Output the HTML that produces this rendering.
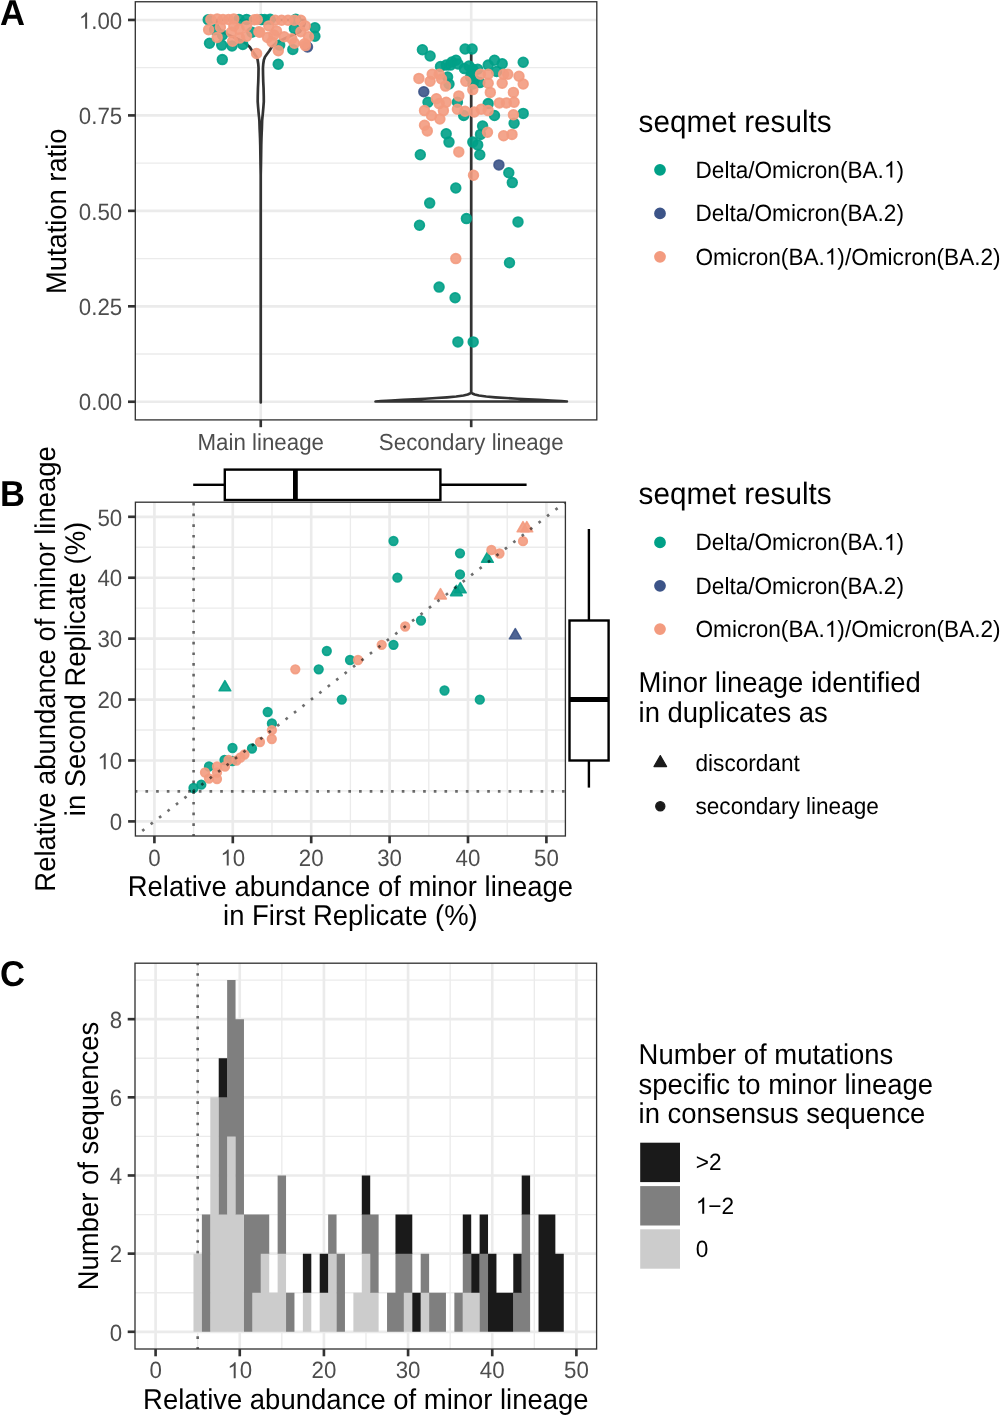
<!DOCTYPE html><html><head><meta charset="utf-8"><style>html,body{margin:0;padding:0;background:#fff;}svg{display:block;will-change:transform;}text{font-family:"Liberation Sans", sans-serif;text-rendering:geometricPrecision;}</style></head><body>
<svg width="1000" height="1416" viewBox="0 0 1000 1416">
<rect x="0" y="0" width="1000" height="1416" fill="#fff"/>
<g>
<clipPath id="clipA"><rect x="135.3" y="1.75" width="461.49999999999994" height="418.15"/></clipPath>
<line x1="135.3" y1="354.02" x2="596.8" y2="354.02" stroke="#EBEBEB" stroke-width="1.33" />
<line x1="135.3" y1="258.57" x2="596.8" y2="258.57" stroke="#EBEBEB" stroke-width="1.33" />
<line x1="135.3" y1="163.12" x2="596.8" y2="163.12" stroke="#EBEBEB" stroke-width="1.33" />
<line x1="135.3" y1="67.68" x2="596.8" y2="67.68" stroke="#EBEBEB" stroke-width="1.33" />
<line x1="260.75" y1="1.75" x2="260.75" y2="419.9" stroke="#EBEBEB" stroke-width="2.65" />
<line x1="471.2" y1="1.75" x2="471.2" y2="419.9" stroke="#EBEBEB" stroke-width="2.65" />
<line x1="135.3" y1="401.75" x2="596.8" y2="401.75" stroke="#EBEBEB" stroke-width="2.65" />
<line x1="135.3" y1="306.3" x2="596.8" y2="306.3" stroke="#EBEBEB" stroke-width="2.65" />
<line x1="135.3" y1="210.85" x2="596.8" y2="210.85" stroke="#EBEBEB" stroke-width="2.65" />
<line x1="135.3" y1="115.4" x2="596.8" y2="115.4" stroke="#EBEBEB" stroke-width="2.65" />
<line x1="135.3" y1="19.95" x2="596.8" y2="19.95" stroke="#EBEBEB" stroke-width="2.65" />
</g>
<path d="M260.75,402.5 L260.75,175 L260.55,165 L260.4,155 L260.25,145 L260.05,138 L259.85,133 L259.65,129 L259.4,121 L259.05,117 L258.65,113.3 L258.1,107 L257.7,101.7 L257.75,96 L257.95,88 L258.25,82 L258.45,75 L258.55,68 L258.25,64 L257.65,60 L256.55,57 L254.45,54 L252.25,51 L249.75,47 L246.25,44 L241.75,41 L235.75,38 L228.75,35 L221.75,32 L219.75,29 L217.75,26 L216.75,23 L216.75,20 L304.75,20 L304.75,23 L303.75,26 L301.75,29 L299.75,32 L292.75,35 L285.75,38 L279.75,41 L275.25,44 L271.75,47 L269.25,51 L267.05,54 L264.95,57 L263.85,60 L263.25,64 L262.95,68 L263.05,75 L263.25,82 L263.55,88 L263.75,96 L263.8,101.7 L263.4,107 L262.85,113.3 L262.45,117 L262.1,121 L261.85,129 L261.65,133 L261.45,138 L261.25,145 L261.1,155 L260.95,165 L260.75,175 L260.75,402.5 Z" fill="#fff" stroke="#333333" stroke-width="2.7" stroke-linejoin="round"/>
<path d="M375.5,401.5 L381,401 L391.2,400.5 L403,399.9 L414.2,399.3 L425,398.75 L436.2,398 L447,397.3 L456.2,396.5 L463.5,395.5 L467.7,394.5 L470,393.5 L471.2,392.7 L471.2,53 L471.2,53 L471.2,392.7 L472.4,393.5 L474.7,394.5 L478.9,395.5 L486.2,396.5 L495.4,397.3 L506.2,398 L517.4,398.75 L528.2,399.3 L539.4,399.9 L551.2,400.5 L561.4,401 L566.9,401.5 Z" fill="#fff" stroke="#333333" stroke-width="2.7" stroke-linejoin="round"/>
<g clip-path="url(#clipA)">
<circle cx="208.2" cy="19.8" r="4.85" fill="#00A087" fill-opacity="0.9" stroke="#00A087" stroke-opacity="0.9" stroke-width="1.76"/>
<circle cx="239" cy="19.4" r="4.85" fill="#00A087" fill-opacity="0.9" stroke="#00A087" stroke-opacity="0.9" stroke-width="1.76"/>
<circle cx="246.6" cy="19.4" r="4.85" fill="#00A087" fill-opacity="0.9" stroke="#00A087" stroke-opacity="0.9" stroke-width="1.76"/>
<circle cx="261.4" cy="19.6" r="4.85" fill="#00A087" fill-opacity="0.9" stroke="#00A087" stroke-opacity="0.9" stroke-width="1.76"/>
<circle cx="264.7" cy="19.6" r="4.85" fill="#00A087" fill-opacity="0.9" stroke="#00A087" stroke-opacity="0.9" stroke-width="1.76"/>
<circle cx="270.1" cy="19.3" r="4.85" fill="#00A087" fill-opacity="0.9" stroke="#00A087" stroke-opacity="0.9" stroke-width="1.76"/>
<circle cx="295.7" cy="19.3" r="4.85" fill="#00A087" fill-opacity="0.9" stroke="#00A087" stroke-opacity="0.9" stroke-width="1.76"/>
<circle cx="214.6" cy="29.8" r="4.85" fill="#00A087" fill-opacity="0.9" stroke="#00A087" stroke-opacity="0.9" stroke-width="1.76"/>
<circle cx="251.8" cy="32.3" r="4.85" fill="#00A087" fill-opacity="0.9" stroke="#00A087" stroke-opacity="0.9" stroke-width="1.76"/>
<circle cx="294.4" cy="28.5" r="4.85" fill="#00A087" fill-opacity="0.9" stroke="#00A087" stroke-opacity="0.9" stroke-width="1.76"/>
<circle cx="314.9" cy="27.8" r="4.85" fill="#00A087" fill-opacity="0.9" stroke="#00A087" stroke-opacity="0.9" stroke-width="1.76"/>
<circle cx="314.9" cy="36.2" r="4.85" fill="#00A087" fill-opacity="0.9" stroke="#00A087" stroke-opacity="0.9" stroke-width="1.76"/>
<circle cx="222.5" cy="35" r="4.85" fill="#00A087" fill-opacity="0.9" stroke="#00A087" stroke-opacity="0.9" stroke-width="1.76"/>
<circle cx="209.5" cy="43.2" r="4.85" fill="#00A087" fill-opacity="0.9" stroke="#00A087" stroke-opacity="0.9" stroke-width="1.76"/>
<circle cx="221.7" cy="45.1" r="4.85" fill="#00A087" fill-opacity="0.9" stroke="#00A087" stroke-opacity="0.9" stroke-width="1.76"/>
<circle cx="232" cy="46" r="4.85" fill="#00A087" fill-opacity="0.9" stroke="#00A087" stroke-opacity="0.9" stroke-width="1.76"/>
<circle cx="242.8" cy="44.5" r="4.85" fill="#00A087" fill-opacity="0.9" stroke="#00A087" stroke-opacity="0.9" stroke-width="1.76"/>
<circle cx="279.7" cy="45.1" r="4.85" fill="#00A087" fill-opacity="0.9" stroke="#00A087" stroke-opacity="0.9" stroke-width="1.76"/>
<circle cx="292.8" cy="49.5" r="4.85" fill="#00A087" fill-opacity="0.9" stroke="#00A087" stroke-opacity="0.9" stroke-width="1.76"/>
<circle cx="222.3" cy="59.6" r="4.85" fill="#00A087" fill-opacity="0.9" stroke="#00A087" stroke-opacity="0.9" stroke-width="1.76"/>
<circle cx="278.2" cy="64.2" r="4.85" fill="#00A087" fill-opacity="0.9" stroke="#00A087" stroke-opacity="0.9" stroke-width="1.76"/>
<circle cx="422.4" cy="49.7" r="4.85" fill="#00A087" fill-opacity="0.9" stroke="#00A087" stroke-opacity="0.9" stroke-width="1.76"/>
<circle cx="430.1" cy="56" r="4.85" fill="#00A087" fill-opacity="0.9" stroke="#00A087" stroke-opacity="0.9" stroke-width="1.76"/>
<circle cx="465.1" cy="49" r="4.85" fill="#00A087" fill-opacity="0.9" stroke="#00A087" stroke-opacity="0.9" stroke-width="1.76"/>
<circle cx="472.1" cy="49" r="4.85" fill="#00A087" fill-opacity="0.9" stroke="#00A087" stroke-opacity="0.9" stroke-width="1.76"/>
<circle cx="523.2" cy="62.3" r="4.85" fill="#00A087" fill-opacity="0.9" stroke="#00A087" stroke-opacity="0.9" stroke-width="1.76"/>
<circle cx="456" cy="60.2" r="4.85" fill="#00A087" fill-opacity="0.9" stroke="#00A087" stroke-opacity="0.9" stroke-width="1.76"/>
<circle cx="446.2" cy="65.1" r="4.85" fill="#00A087" fill-opacity="0.9" stroke="#00A087" stroke-opacity="0.9" stroke-width="1.76"/>
<circle cx="450.4" cy="65.1" r="4.85" fill="#00A087" fill-opacity="0.9" stroke="#00A087" stroke-opacity="0.9" stroke-width="1.76"/>
<circle cx="464.4" cy="68.6" r="4.85" fill="#00A087" fill-opacity="0.9" stroke="#00A087" stroke-opacity="0.9" stroke-width="1.76"/>
<circle cx="472.8" cy="69.3" r="4.85" fill="#00A087" fill-opacity="0.9" stroke="#00A087" stroke-opacity="0.9" stroke-width="1.76"/>
<circle cx="477.7" cy="69.3" r="4.85" fill="#00A087" fill-opacity="0.9" stroke="#00A087" stroke-opacity="0.9" stroke-width="1.76"/>
<circle cx="488.2" cy="65.1" r="4.85" fill="#00A087" fill-opacity="0.9" stroke="#00A087" stroke-opacity="0.9" stroke-width="1.76"/>
<circle cx="494.5" cy="60.2" r="4.85" fill="#00A087" fill-opacity="0.9" stroke="#00A087" stroke-opacity="0.9" stroke-width="1.76"/>
<circle cx="502.2" cy="63.7" r="4.85" fill="#00A087" fill-opacity="0.9" stroke="#00A087" stroke-opacity="0.9" stroke-width="1.76"/>
<circle cx="496.6" cy="71.4" r="4.85" fill="#00A087" fill-opacity="0.9" stroke="#00A087" stroke-opacity="0.9" stroke-width="1.76"/>
<circle cx="447.6" cy="77" r="4.85" fill="#00A087" fill-opacity="0.9" stroke="#00A087" stroke-opacity="0.9" stroke-width="1.76"/>
<circle cx="449" cy="84" r="4.85" fill="#00A087" fill-opacity="0.9" stroke="#00A087" stroke-opacity="0.9" stroke-width="1.76"/>
<circle cx="474.2" cy="79.8" r="4.85" fill="#00A087" fill-opacity="0.9" stroke="#00A087" stroke-opacity="0.9" stroke-width="1.76"/>
<circle cx="479.8" cy="82.6" r="4.85" fill="#00A087" fill-opacity="0.9" stroke="#00A087" stroke-opacity="0.9" stroke-width="1.76"/>
<circle cx="428" cy="102.2" r="4.85" fill="#00A087" fill-opacity="0.9" stroke="#00A087" stroke-opacity="0.9" stroke-width="1.76"/>
<circle cx="457.4" cy="102.2" r="4.85" fill="#00A087" fill-opacity="0.9" stroke="#00A087" stroke-opacity="0.9" stroke-width="1.76"/>
<circle cx="463.7" cy="115.5" r="4.85" fill="#00A087" fill-opacity="0.9" stroke="#00A087" stroke-opacity="0.9" stroke-width="1.76"/>
<circle cx="488.2" cy="103.6" r="4.85" fill="#00A087" fill-opacity="0.9" stroke="#00A087" stroke-opacity="0.9" stroke-width="1.76"/>
<circle cx="494.5" cy="115.5" r="4.85" fill="#00A087" fill-opacity="0.9" stroke="#00A087" stroke-opacity="0.9" stroke-width="1.76"/>
<circle cx="523.2" cy="113.4" r="4.85" fill="#00A087" fill-opacity="0.9" stroke="#00A087" stroke-opacity="0.9" stroke-width="1.76"/>
<circle cx="514.1" cy="123.2" r="4.85" fill="#00A087" fill-opacity="0.9" stroke="#00A087" stroke-opacity="0.9" stroke-width="1.76"/>
<circle cx="482.6" cy="126" r="4.85" fill="#00A087" fill-opacity="0.9" stroke="#00A087" stroke-opacity="0.9" stroke-width="1.76"/>
<circle cx="480.5" cy="134.4" r="4.85" fill="#00A087" fill-opacity="0.9" stroke="#00A087" stroke-opacity="0.9" stroke-width="1.76"/>
<circle cx="446.2" cy="133.7" r="4.85" fill="#00A087" fill-opacity="0.9" stroke="#00A087" stroke-opacity="0.9" stroke-width="1.76"/>
<circle cx="449" cy="142.1" r="4.85" fill="#00A087" fill-opacity="0.9" stroke="#00A087" stroke-opacity="0.9" stroke-width="1.76"/>
<circle cx="472.8" cy="142.1" r="4.85" fill="#00A087" fill-opacity="0.9" stroke="#00A087" stroke-opacity="0.9" stroke-width="1.76"/>
<circle cx="477.7" cy="144.9" r="4.85" fill="#00A087" fill-opacity="0.9" stroke="#00A087" stroke-opacity="0.9" stroke-width="1.76"/>
<circle cx="420.3" cy="154.7" r="4.85" fill="#00A087" fill-opacity="0.9" stroke="#00A087" stroke-opacity="0.9" stroke-width="1.76"/>
<circle cx="479.8" cy="154.7" r="4.85" fill="#00A087" fill-opacity="0.9" stroke="#00A087" stroke-opacity="0.9" stroke-width="1.76"/>
<circle cx="508.8" cy="172.7" r="4.85" fill="#00A087" fill-opacity="0.9" stroke="#00A087" stroke-opacity="0.9" stroke-width="1.76"/>
<circle cx="512.3" cy="182.6" r="4.85" fill="#00A087" fill-opacity="0.9" stroke="#00A087" stroke-opacity="0.9" stroke-width="1.76"/>
<circle cx="455.8" cy="188" r="4.85" fill="#00A087" fill-opacity="0.9" stroke="#00A087" stroke-opacity="0.9" stroke-width="1.76"/>
<circle cx="429.7" cy="203.1" r="4.85" fill="#00A087" fill-opacity="0.9" stroke="#00A087" stroke-opacity="0.9" stroke-width="1.76"/>
<circle cx="466.4" cy="218.6" r="4.85" fill="#00A087" fill-opacity="0.9" stroke="#00A087" stroke-opacity="0.9" stroke-width="1.76"/>
<circle cx="419.5" cy="225.3" r="4.85" fill="#00A087" fill-opacity="0.9" stroke="#00A087" stroke-opacity="0.9" stroke-width="1.76"/>
<circle cx="518" cy="221.9" r="4.85" fill="#00A087" fill-opacity="0.9" stroke="#00A087" stroke-opacity="0.9" stroke-width="1.76"/>
<circle cx="509.5" cy="262.8" r="4.85" fill="#00A087" fill-opacity="0.9" stroke="#00A087" stroke-opacity="0.9" stroke-width="1.76"/>
<circle cx="439.1" cy="287.1" r="4.85" fill="#00A087" fill-opacity="0.9" stroke="#00A087" stroke-opacity="0.9" stroke-width="1.76"/>
<circle cx="455.1" cy="297.7" r="4.85" fill="#00A087" fill-opacity="0.9" stroke="#00A087" stroke-opacity="0.9" stroke-width="1.76"/>
<circle cx="457.9" cy="341.9" r="4.85" fill="#00A087" fill-opacity="0.9" stroke="#00A087" stroke-opacity="0.9" stroke-width="1.76"/>
<circle cx="473.2" cy="341.9" r="4.85" fill="#00A087" fill-opacity="0.9" stroke="#00A087" stroke-opacity="0.9" stroke-width="1.76"/>
<circle cx="440.5" cy="66.5" r="4.85" fill="#00A087" fill-opacity="0.9" stroke="#00A087" stroke-opacity="0.9" stroke-width="1.76"/>
<circle cx="452" cy="62" r="4.85" fill="#00A087" fill-opacity="0.9" stroke="#00A087" stroke-opacity="0.9" stroke-width="1.76"/>
<circle cx="458" cy="64" r="4.85" fill="#00A087" fill-opacity="0.9" stroke="#00A087" stroke-opacity="0.9" stroke-width="1.76"/>
<circle cx="471.5" cy="74" r="4.85" fill="#00A087" fill-opacity="0.9" stroke="#00A087" stroke-opacity="0.9" stroke-width="1.76"/>
<circle cx="469" cy="66" r="4.85" fill="#00A087" fill-opacity="0.9" stroke="#00A087" stroke-opacity="0.9" stroke-width="1.76"/>
<circle cx="473" cy="84" r="4.85" fill="#00A087" fill-opacity="0.9" stroke="#00A087" stroke-opacity="0.9" stroke-width="1.76"/>
<circle cx="470.5" cy="77" r="4.85" fill="#00A087" fill-opacity="0.9" stroke="#00A087" stroke-opacity="0.9" stroke-width="1.76"/>
<circle cx="307.5" cy="47" r="4.85" fill="#3C5488" fill-opacity="0.9" stroke="#3C5488" stroke-opacity="0.9" stroke-width="1.76"/>
<circle cx="423.8" cy="91.7" r="4.85" fill="#3C5488" fill-opacity="0.9" stroke="#3C5488" stroke-opacity="0.9" stroke-width="1.76"/>
<circle cx="498.9" cy="164.9" r="4.85" fill="#3C5488" fill-opacity="0.9" stroke="#3C5488" stroke-opacity="0.9" stroke-width="1.76"/>
<circle cx="210.8" cy="19.5" r="4.85" fill="#F39B7F" fill-opacity="0.9" stroke="#F39B7F" stroke-opacity="0.9" stroke-width="1.76"/>
<circle cx="217.2" cy="18.9" r="4.85" fill="#F39B7F" fill-opacity="0.9" stroke="#F39B7F" stroke-opacity="0.9" stroke-width="1.76"/>
<circle cx="223" cy="19.5" r="4.85" fill="#F39B7F" fill-opacity="0.9" stroke="#F39B7F" stroke-opacity="0.9" stroke-width="1.76"/>
<circle cx="228.5" cy="19.5" r="4.85" fill="#F39B7F" fill-opacity="0.9" stroke="#F39B7F" stroke-opacity="0.9" stroke-width="1.76"/>
<circle cx="233.8" cy="18.9" r="4.85" fill="#F39B7F" fill-opacity="0.9" stroke="#F39B7F" stroke-opacity="0.9" stroke-width="1.76"/>
<circle cx="254.3" cy="19.8" r="4.85" fill="#F39B7F" fill-opacity="0.9" stroke="#F39B7F" stroke-opacity="0.9" stroke-width="1.76"/>
<circle cx="257.3" cy="19.5" r="4.85" fill="#F39B7F" fill-opacity="0.9" stroke="#F39B7F" stroke-opacity="0.9" stroke-width="1.76"/>
<circle cx="275.2" cy="20.2" r="4.85" fill="#F39B7F" fill-opacity="0.9" stroke="#F39B7F" stroke-opacity="0.9" stroke-width="1.76"/>
<circle cx="281.6" cy="20.2" r="4.85" fill="#F39B7F" fill-opacity="0.9" stroke="#F39B7F" stroke-opacity="0.9" stroke-width="1.76"/>
<circle cx="288" cy="20.2" r="4.85" fill="#F39B7F" fill-opacity="0.9" stroke="#F39B7F" stroke-opacity="0.9" stroke-width="1.76"/>
<circle cx="294.4" cy="20.2" r="4.85" fill="#F39B7F" fill-opacity="0.9" stroke="#F39B7F" stroke-opacity="0.9" stroke-width="1.76"/>
<circle cx="300.8" cy="20.2" r="4.85" fill="#F39B7F" fill-opacity="0.9" stroke="#F39B7F" stroke-opacity="0.9" stroke-width="1.76"/>
<circle cx="208.6" cy="29.8" r="4.85" fill="#F39B7F" fill-opacity="0.9" stroke="#F39B7F" stroke-opacity="0.9" stroke-width="1.76"/>
<circle cx="220.4" cy="27.2" r="4.85" fill="#F39B7F" fill-opacity="0.9" stroke="#F39B7F" stroke-opacity="0.9" stroke-width="1.76"/>
<circle cx="233.8" cy="25.9" r="4.85" fill="#F39B7F" fill-opacity="0.9" stroke="#F39B7F" stroke-opacity="0.9" stroke-width="1.76"/>
<circle cx="246.6" cy="25.9" r="4.85" fill="#F39B7F" fill-opacity="0.9" stroke="#F39B7F" stroke-opacity="0.9" stroke-width="1.76"/>
<circle cx="239" cy="29.1" r="4.85" fill="#F39B7F" fill-opacity="0.9" stroke="#F39B7F" stroke-opacity="0.9" stroke-width="1.76"/>
<circle cx="231.3" cy="32.3" r="4.85" fill="#F39B7F" fill-opacity="0.9" stroke="#F39B7F" stroke-opacity="0.9" stroke-width="1.76"/>
<circle cx="258.8" cy="31.7" r="4.85" fill="#F39B7F" fill-opacity="0.9" stroke="#F39B7F" stroke-opacity="0.9" stroke-width="1.76"/>
<circle cx="268.8" cy="25.9" r="4.85" fill="#F39B7F" fill-opacity="0.9" stroke="#F39B7F" stroke-opacity="0.9" stroke-width="1.76"/>
<circle cx="305.3" cy="25.9" r="4.85" fill="#F39B7F" fill-opacity="0.9" stroke="#F39B7F" stroke-opacity="0.9" stroke-width="1.76"/>
<circle cx="259.8" cy="32.3" r="4.85" fill="#F39B7F" fill-opacity="0.9" stroke="#F39B7F" stroke-opacity="0.9" stroke-width="1.76"/>
<circle cx="217.2" cy="37.4" r="4.85" fill="#F39B7F" fill-opacity="0.9" stroke="#F39B7F" stroke-opacity="0.9" stroke-width="1.76"/>
<circle cx="246.6" cy="36.2" r="4.85" fill="#F39B7F" fill-opacity="0.9" stroke="#F39B7F" stroke-opacity="0.9" stroke-width="1.76"/>
<circle cx="239.6" cy="38.1" r="4.85" fill="#F39B7F" fill-opacity="0.9" stroke="#F39B7F" stroke-opacity="0.9" stroke-width="1.76"/>
<circle cx="267.5" cy="37.4" r="4.85" fill="#F39B7F" fill-opacity="0.9" stroke="#F39B7F" stroke-opacity="0.9" stroke-width="1.76"/>
<circle cx="273.9" cy="34.9" r="4.85" fill="#F39B7F" fill-opacity="0.9" stroke="#F39B7F" stroke-opacity="0.9" stroke-width="1.76"/>
<circle cx="276.5" cy="31" r="4.85" fill="#F39B7F" fill-opacity="0.9" stroke="#F39B7F" stroke-opacity="0.9" stroke-width="1.76"/>
<circle cx="284.2" cy="36.8" r="4.85" fill="#F39B7F" fill-opacity="0.9" stroke="#F39B7F" stroke-opacity="0.9" stroke-width="1.76"/>
<circle cx="291.8" cy="38.7" r="4.85" fill="#F39B7F" fill-opacity="0.9" stroke="#F39B7F" stroke-opacity="0.9" stroke-width="1.76"/>
<circle cx="300.8" cy="31.7" r="4.85" fill="#F39B7F" fill-opacity="0.9" stroke="#F39B7F" stroke-opacity="0.9" stroke-width="1.76"/>
<circle cx="308.5" cy="36.8" r="4.85" fill="#F39B7F" fill-opacity="0.9" stroke="#F39B7F" stroke-opacity="0.9" stroke-width="1.76"/>
<circle cx="232.6" cy="41.3" r="4.85" fill="#F39B7F" fill-opacity="0.9" stroke="#F39B7F" stroke-opacity="0.9" stroke-width="1.76"/>
<circle cx="272" cy="41.9" r="4.85" fill="#F39B7F" fill-opacity="0.9" stroke="#F39B7F" stroke-opacity="0.9" stroke-width="1.76"/>
<circle cx="294.4" cy="43.2" r="4.85" fill="#F39B7F" fill-opacity="0.9" stroke="#F39B7F" stroke-opacity="0.9" stroke-width="1.76"/>
<circle cx="304.6" cy="43.8" r="4.85" fill="#F39B7F" fill-opacity="0.9" stroke="#F39B7F" stroke-opacity="0.9" stroke-width="1.76"/>
<circle cx="305.5" cy="45.6" r="4.85" fill="#F39B7F" fill-opacity="0.9" stroke="#F39B7F" stroke-opacity="0.9" stroke-width="1.76"/>
<circle cx="278.3" cy="50.8" r="4.85" fill="#F39B7F" fill-opacity="0.9" stroke="#F39B7F" stroke-opacity="0.9" stroke-width="1.76"/>
<circle cx="256.6" cy="53.5" r="4.85" fill="#F39B7F" fill-opacity="0.9" stroke="#F39B7F" stroke-opacity="0.9" stroke-width="1.76"/>
<circle cx="418.9" cy="78.4" r="4.85" fill="#F39B7F" fill-opacity="0.9" stroke="#F39B7F" stroke-opacity="0.9" stroke-width="1.76"/>
<circle cx="430.1" cy="81.2" r="4.85" fill="#F39B7F" fill-opacity="0.9" stroke="#F39B7F" stroke-opacity="0.9" stroke-width="1.76"/>
<circle cx="432.2" cy="74.2" r="4.85" fill="#F39B7F" fill-opacity="0.9" stroke="#F39B7F" stroke-opacity="0.9" stroke-width="1.76"/>
<circle cx="439.2" cy="74.2" r="4.85" fill="#F39B7F" fill-opacity="0.9" stroke="#F39B7F" stroke-opacity="0.9" stroke-width="1.76"/>
<circle cx="441.5" cy="79" r="4.85" fill="#F39B7F" fill-opacity="0.9" stroke="#F39B7F" stroke-opacity="0.9" stroke-width="1.76"/>
<circle cx="445.5" cy="86.1" r="4.85" fill="#F39B7F" fill-opacity="0.9" stroke="#F39B7F" stroke-opacity="0.9" stroke-width="1.76"/>
<circle cx="465.8" cy="81.2" r="4.85" fill="#F39B7F" fill-opacity="0.9" stroke="#F39B7F" stroke-opacity="0.9" stroke-width="1.76"/>
<circle cx="472.8" cy="89.6" r="4.85" fill="#F39B7F" fill-opacity="0.9" stroke="#F39B7F" stroke-opacity="0.9" stroke-width="1.76"/>
<circle cx="480.5" cy="74.2" r="4.85" fill="#F39B7F" fill-opacity="0.9" stroke="#F39B7F" stroke-opacity="0.9" stroke-width="1.76"/>
<circle cx="488.2" cy="74.2" r="4.85" fill="#F39B7F" fill-opacity="0.9" stroke="#F39B7F" stroke-opacity="0.9" stroke-width="1.76"/>
<circle cx="488.2" cy="83.3" r="4.85" fill="#F39B7F" fill-opacity="0.9" stroke="#F39B7F" stroke-opacity="0.9" stroke-width="1.76"/>
<circle cx="490.3" cy="92.4" r="4.85" fill="#F39B7F" fill-opacity="0.9" stroke="#F39B7F" stroke-opacity="0.9" stroke-width="1.76"/>
<circle cx="503.6" cy="74.2" r="4.85" fill="#F39B7F" fill-opacity="0.9" stroke="#F39B7F" stroke-opacity="0.9" stroke-width="1.76"/>
<circle cx="507.8" cy="74.2" r="4.85" fill="#F39B7F" fill-opacity="0.9" stroke="#F39B7F" stroke-opacity="0.9" stroke-width="1.76"/>
<circle cx="502.2" cy="83.3" r="4.85" fill="#F39B7F" fill-opacity="0.9" stroke="#F39B7F" stroke-opacity="0.9" stroke-width="1.76"/>
<circle cx="519" cy="76.3" r="4.85" fill="#F39B7F" fill-opacity="0.9" stroke="#F39B7F" stroke-opacity="0.9" stroke-width="1.76"/>
<circle cx="523.2" cy="84" r="4.85" fill="#F39B7F" fill-opacity="0.9" stroke="#F39B7F" stroke-opacity="0.9" stroke-width="1.76"/>
<circle cx="513.4" cy="92.4" r="4.85" fill="#F39B7F" fill-opacity="0.9" stroke="#F39B7F" stroke-opacity="0.9" stroke-width="1.76"/>
<circle cx="458.8" cy="95.9" r="4.85" fill="#F39B7F" fill-opacity="0.9" stroke="#F39B7F" stroke-opacity="0.9" stroke-width="1.76"/>
<circle cx="436.4" cy="98.7" r="4.85" fill="#F39B7F" fill-opacity="0.9" stroke="#F39B7F" stroke-opacity="0.9" stroke-width="1.76"/>
<circle cx="446.2" cy="102.2" r="4.85" fill="#F39B7F" fill-opacity="0.9" stroke="#F39B7F" stroke-opacity="0.9" stroke-width="1.76"/>
<circle cx="439.2" cy="103.6" r="4.85" fill="#F39B7F" fill-opacity="0.9" stroke="#F39B7F" stroke-opacity="0.9" stroke-width="1.76"/>
<circle cx="424.5" cy="110.6" r="4.85" fill="#F39B7F" fill-opacity="0.9" stroke="#F39B7F" stroke-opacity="0.9" stroke-width="1.76"/>
<circle cx="431.5" cy="115.5" r="4.85" fill="#F39B7F" fill-opacity="0.9" stroke="#F39B7F" stroke-opacity="0.9" stroke-width="1.76"/>
<circle cx="439.9" cy="119" r="4.85" fill="#F39B7F" fill-opacity="0.9" stroke="#F39B7F" stroke-opacity="0.9" stroke-width="1.76"/>
<circle cx="443.4" cy="110.6" r="4.85" fill="#F39B7F" fill-opacity="0.9" stroke="#F39B7F" stroke-opacity="0.9" stroke-width="1.76"/>
<circle cx="457.4" cy="109.2" r="4.85" fill="#F39B7F" fill-opacity="0.9" stroke="#F39B7F" stroke-opacity="0.9" stroke-width="1.76"/>
<circle cx="465.1" cy="111.3" r="4.85" fill="#F39B7F" fill-opacity="0.9" stroke="#F39B7F" stroke-opacity="0.9" stroke-width="1.76"/>
<circle cx="474.2" cy="112" r="4.85" fill="#F39B7F" fill-opacity="0.9" stroke="#F39B7F" stroke-opacity="0.9" stroke-width="1.76"/>
<circle cx="481.2" cy="109.2" r="4.85" fill="#F39B7F" fill-opacity="0.9" stroke="#F39B7F" stroke-opacity="0.9" stroke-width="1.76"/>
<circle cx="488.2" cy="110.6" r="4.85" fill="#F39B7F" fill-opacity="0.9" stroke="#F39B7F" stroke-opacity="0.9" stroke-width="1.76"/>
<circle cx="499.4" cy="102.9" r="4.85" fill="#F39B7F" fill-opacity="0.9" stroke="#F39B7F" stroke-opacity="0.9" stroke-width="1.76"/>
<circle cx="506.4" cy="102.9" r="4.85" fill="#F39B7F" fill-opacity="0.9" stroke="#F39B7F" stroke-opacity="0.9" stroke-width="1.76"/>
<circle cx="514.1" cy="102.2" r="4.85" fill="#F39B7F" fill-opacity="0.9" stroke="#F39B7F" stroke-opacity="0.9" stroke-width="1.76"/>
<circle cx="513.4" cy="114.8" r="4.85" fill="#F39B7F" fill-opacity="0.9" stroke="#F39B7F" stroke-opacity="0.9" stroke-width="1.76"/>
<circle cx="424.5" cy="125.3" r="4.85" fill="#F39B7F" fill-opacity="0.9" stroke="#F39B7F" stroke-opacity="0.9" stroke-width="1.76"/>
<circle cx="427.3" cy="130.9" r="4.85" fill="#F39B7F" fill-opacity="0.9" stroke="#F39B7F" stroke-opacity="0.9" stroke-width="1.76"/>
<circle cx="487.5" cy="132.3" r="4.85" fill="#F39B7F" fill-opacity="0.9" stroke="#F39B7F" stroke-opacity="0.9" stroke-width="1.76"/>
<circle cx="503.6" cy="135.8" r="4.85" fill="#F39B7F" fill-opacity="0.9" stroke="#F39B7F" stroke-opacity="0.9" stroke-width="1.76"/>
<circle cx="512" cy="134.4" r="4.85" fill="#F39B7F" fill-opacity="0.9" stroke="#F39B7F" stroke-opacity="0.9" stroke-width="1.76"/>
<circle cx="458.8" cy="151.9" r="4.85" fill="#F39B7F" fill-opacity="0.9" stroke="#F39B7F" stroke-opacity="0.9" stroke-width="1.76"/>
<circle cx="473.5" cy="175.3" r="4.85" fill="#F39B7F" fill-opacity="0.9" stroke="#F39B7F" stroke-opacity="0.9" stroke-width="1.76"/>
<circle cx="455.8" cy="258.6" r="4.85" fill="#F39B7F" fill-opacity="0.9" stroke="#F39B7F" stroke-opacity="0.9" stroke-width="1.76"/>
</g>
<rect x="135.3" y="1.75" width="461.5" height="418.15" fill="none" stroke="#333333" stroke-width="1.33"/>
<line x1="128" y1="401.75" x2="135.3" y2="401.75" stroke="#333333" stroke-width="2.65" />
<text transform="translate(122.2 410.45) scale(1 1.055)" font-size="22.3" fill="#4D4D4D" text-anchor="end" >0.00</text>
<line x1="128" y1="306.3" x2="135.3" y2="306.3" stroke="#333333" stroke-width="2.65" />
<text transform="translate(122.2 315) scale(1 1.055)" font-size="22.3" fill="#4D4D4D" text-anchor="end" >0.25</text>
<line x1="128" y1="210.85" x2="135.3" y2="210.85" stroke="#333333" stroke-width="2.65" />
<text transform="translate(122.2 219.55) scale(1 1.055)" font-size="22.3" fill="#4D4D4D" text-anchor="end" >0.50</text>
<line x1="128" y1="115.4" x2="135.3" y2="115.4" stroke="#333333" stroke-width="2.65" />
<text transform="translate(122.2 124.1) scale(1 1.055)" font-size="22.3" fill="#4D4D4D" text-anchor="end" >0.75</text>
<line x1="128" y1="19.95" x2="135.3" y2="19.95" stroke="#333333" stroke-width="2.65" />
<text transform="translate(122.2 28.65) scale(1 1.055)" font-size="22.3" fill="#4D4D4D" text-anchor="end" > .00</text>
<path transform="matrix(0.010889 0 0 -0.010889 78.8 28.65)" d="M763,0 L583,0 L583,1147 Q518,1085 412.5,1023 Q307,961 223,930 L223,1104 Q374,1175 487,1276 Q600,1377 647,1472 L763,1472 Z" fill="#4D4D4D"/>
<line x1="260.75" y1="419.9" x2="260.75" y2="427.2" stroke="#333333" stroke-width="2.65" />
<text transform="translate(260.75 449.7) scale(1 1.04)" font-size="22.3" fill="#4D4D4D" text-anchor="middle" >Main lineage</text>
<line x1="471.2" y1="419.9" x2="471.2" y2="427.2" stroke="#333333" stroke-width="2.65" />
<text transform="translate(471.2 449.7) scale(1 1.04)" font-size="22.3" fill="#4D4D4D" text-anchor="middle" >Secondary lineage</text>
<text transform="translate(65.9 211.3) rotate(-90) scale(1 1.04)" font-size="27.3" fill="#000" text-anchor="middle" >Mutation ratio</text>
<clipPath id="clipB"><rect x="135.4" y="502.2" width="430.0" height="333.8"/></clipPath>
<line x1="193.6" y1="502.2" x2="193.6" y2="836" stroke="#EBEBEB" stroke-width="1.33" />
<line x1="272" y1="502.2" x2="272" y2="836" stroke="#EBEBEB" stroke-width="1.33" />
<line x1="350.4" y1="502.2" x2="350.4" y2="836" stroke="#EBEBEB" stroke-width="1.33" />
<line x1="428.8" y1="502.2" x2="428.8" y2="836" stroke="#EBEBEB" stroke-width="1.33" />
<line x1="507.2" y1="502.2" x2="507.2" y2="836" stroke="#EBEBEB" stroke-width="1.33" />
<line x1="135.4" y1="790.94" x2="565.4" y2="790.94" stroke="#EBEBEB" stroke-width="1.33" />
<line x1="135.4" y1="730.02" x2="565.4" y2="730.02" stroke="#EBEBEB" stroke-width="1.33" />
<line x1="135.4" y1="669.1" x2="565.4" y2="669.1" stroke="#EBEBEB" stroke-width="1.33" />
<line x1="135.4" y1="608.18" x2="565.4" y2="608.18" stroke="#EBEBEB" stroke-width="1.33" />
<line x1="135.4" y1="547.26" x2="565.4" y2="547.26" stroke="#EBEBEB" stroke-width="1.33" />
<line x1="154.4" y1="502.2" x2="154.4" y2="836" stroke="#EBEBEB" stroke-width="2.65" />
<line x1="232.8" y1="502.2" x2="232.8" y2="836" stroke="#EBEBEB" stroke-width="2.65" />
<line x1="311.2" y1="502.2" x2="311.2" y2="836" stroke="#EBEBEB" stroke-width="2.65" />
<line x1="389.6" y1="502.2" x2="389.6" y2="836" stroke="#EBEBEB" stroke-width="2.65" />
<line x1="468" y1="502.2" x2="468" y2="836" stroke="#EBEBEB" stroke-width="2.65" />
<line x1="546.4" y1="502.2" x2="546.4" y2="836" stroke="#EBEBEB" stroke-width="2.65" />
<line x1="135.4" y1="821.4" x2="565.4" y2="821.4" stroke="#EBEBEB" stroke-width="2.65" />
<line x1="135.4" y1="760.48" x2="565.4" y2="760.48" stroke="#EBEBEB" stroke-width="2.65" />
<line x1="135.4" y1="699.56" x2="565.4" y2="699.56" stroke="#EBEBEB" stroke-width="2.65" />
<line x1="135.4" y1="638.64" x2="565.4" y2="638.64" stroke="#EBEBEB" stroke-width="2.65" />
<line x1="135.4" y1="577.72" x2="565.4" y2="577.72" stroke="#EBEBEB" stroke-width="2.65" />
<line x1="135.4" y1="516.8" x2="565.4" y2="516.8" stroke="#EBEBEB" stroke-width="2.65" />
<g clip-path="url(#clipB)">
<circle cx="193.5" cy="788" r="4.35" fill="#00A087" fill-opacity="0.9" stroke="#00A087" stroke-opacity="0.9" stroke-width="1.6"/>
<circle cx="201.3" cy="784.7" r="4.35" fill="#00A087" fill-opacity="0.9" stroke="#00A087" stroke-opacity="0.9" stroke-width="1.6"/>
<circle cx="209" cy="766.5" r="4.35" fill="#00A087" fill-opacity="0.9" stroke="#00A087" stroke-opacity="0.9" stroke-width="1.6"/>
<circle cx="224.5" cy="760" r="4.35" fill="#00A087" fill-opacity="0.9" stroke="#00A087" stroke-opacity="0.9" stroke-width="1.6"/>
<circle cx="232.5" cy="761" r="4.35" fill="#00A087" fill-opacity="0.9" stroke="#00A087" stroke-opacity="0.9" stroke-width="1.6"/>
<circle cx="232.5" cy="748" r="4.35" fill="#00A087" fill-opacity="0.9" stroke="#00A087" stroke-opacity="0.9" stroke-width="1.6"/>
<circle cx="252" cy="748.5" r="4.35" fill="#00A087" fill-opacity="0.9" stroke="#00A087" stroke-opacity="0.9" stroke-width="1.6"/>
<circle cx="267.7" cy="712" r="4.35" fill="#00A087" fill-opacity="0.9" stroke="#00A087" stroke-opacity="0.9" stroke-width="1.6"/>
<circle cx="271.9" cy="723.5" r="4.35" fill="#00A087" fill-opacity="0.9" stroke="#00A087" stroke-opacity="0.9" stroke-width="1.6"/>
<circle cx="318.7" cy="669.3" r="4.35" fill="#00A087" fill-opacity="0.9" stroke="#00A087" stroke-opacity="0.9" stroke-width="1.6"/>
<circle cx="326.8" cy="651" r="4.35" fill="#00A087" fill-opacity="0.9" stroke="#00A087" stroke-opacity="0.9" stroke-width="1.6"/>
<circle cx="341.8" cy="699.6" r="4.35" fill="#00A087" fill-opacity="0.9" stroke="#00A087" stroke-opacity="0.9" stroke-width="1.6"/>
<circle cx="350" cy="660" r="4.35" fill="#00A087" fill-opacity="0.9" stroke="#00A087" stroke-opacity="0.9" stroke-width="1.6"/>
<circle cx="393.5" cy="644.8" r="4.35" fill="#00A087" fill-opacity="0.9" stroke="#00A087" stroke-opacity="0.9" stroke-width="1.6"/>
<circle cx="421" cy="620.5" r="4.35" fill="#00A087" fill-opacity="0.9" stroke="#00A087" stroke-opacity="0.9" stroke-width="1.6"/>
<circle cx="393.5" cy="541" r="4.35" fill="#00A087" fill-opacity="0.9" stroke="#00A087" stroke-opacity="0.9" stroke-width="1.6"/>
<circle cx="397.4" cy="577.7" r="4.35" fill="#00A087" fill-opacity="0.9" stroke="#00A087" stroke-opacity="0.9" stroke-width="1.6"/>
<circle cx="444.5" cy="690.5" r="4.35" fill="#00A087" fill-opacity="0.9" stroke="#00A087" stroke-opacity="0.9" stroke-width="1.6"/>
<circle cx="479.8" cy="699.7" r="4.35" fill="#00A087" fill-opacity="0.9" stroke="#00A087" stroke-opacity="0.9" stroke-width="1.6"/>
<circle cx="460" cy="553.3" r="4.35" fill="#00A087" fill-opacity="0.9" stroke="#00A087" stroke-opacity="0.9" stroke-width="1.6"/>
<circle cx="460" cy="574.4" r="4.35" fill="#00A087" fill-opacity="0.9" stroke="#00A087" stroke-opacity="0.9" stroke-width="1.6"/>
<polygon points="224.9,680.6 230.79,690.8 219.01,690.8" fill="#00A087" fill-opacity="0.9" stroke="#00A087" stroke-opacity="0.9" stroke-width="1.6" stroke-linejoin="round"/>
<polygon points="456.4,585.4 462.29,595.6 450.51,595.6" fill="#00A087" fill-opacity="0.9" stroke="#00A087" stroke-opacity="0.9" stroke-width="1.6" stroke-linejoin="round"/>
<polygon points="460.3,582.6 466.19,592.8 454.41,592.8" fill="#00A087" fill-opacity="0.9" stroke="#00A087" stroke-opacity="0.9" stroke-width="1.6" stroke-linejoin="round"/>
<polygon points="487.4,552.1 493.29,562.3 481.51,562.3" fill="#00A087" fill-opacity="0.9" stroke="#00A087" stroke-opacity="0.9" stroke-width="1.6" stroke-linejoin="round"/>
<polygon points="515.3,628.6 521.19,638.8 509.41,638.8" fill="#3C5488" fill-opacity="0.9" stroke="#3C5488" stroke-opacity="0.9" stroke-width="1.6" stroke-linejoin="round"/>
<circle cx="209" cy="778.5" r="4.35" fill="#F39B7F" fill-opacity="0.9" stroke="#F39B7F" stroke-opacity="0.9" stroke-width="1.6"/>
<circle cx="217" cy="779" r="4.35" fill="#F39B7F" fill-opacity="0.9" stroke="#F39B7F" stroke-opacity="0.9" stroke-width="1.6"/>
<circle cx="205" cy="772.5" r="4.35" fill="#F39B7F" fill-opacity="0.9" stroke="#F39B7F" stroke-opacity="0.9" stroke-width="1.6"/>
<circle cx="217" cy="772.5" r="4.35" fill="#F39B7F" fill-opacity="0.9" stroke="#F39B7F" stroke-opacity="0.9" stroke-width="1.6"/>
<circle cx="217" cy="766.5" r="4.35" fill="#F39B7F" fill-opacity="0.9" stroke="#F39B7F" stroke-opacity="0.9" stroke-width="1.6"/>
<circle cx="225" cy="766.5" r="4.35" fill="#F39B7F" fill-opacity="0.9" stroke="#F39B7F" stroke-opacity="0.9" stroke-width="1.6"/>
<circle cx="228.5" cy="760" r="4.35" fill="#F39B7F" fill-opacity="0.9" stroke="#F39B7F" stroke-opacity="0.9" stroke-width="1.6"/>
<circle cx="236.5" cy="760.5" r="4.35" fill="#F39B7F" fill-opacity="0.9" stroke="#F39B7F" stroke-opacity="0.9" stroke-width="1.6"/>
<circle cx="240.5" cy="757.5" r="4.35" fill="#F39B7F" fill-opacity="0.9" stroke="#F39B7F" stroke-opacity="0.9" stroke-width="1.6"/>
<circle cx="244.5" cy="754.5" r="4.35" fill="#F39B7F" fill-opacity="0.9" stroke="#F39B7F" stroke-opacity="0.9" stroke-width="1.6"/>
<circle cx="260" cy="742" r="4.35" fill="#F39B7F" fill-opacity="0.9" stroke="#F39B7F" stroke-opacity="0.9" stroke-width="1.6"/>
<circle cx="271.8" cy="739" r="4.35" fill="#F39B7F" fill-opacity="0.9" stroke="#F39B7F" stroke-opacity="0.9" stroke-width="1.6"/>
<circle cx="271.9" cy="730.2" r="4.35" fill="#F39B7F" fill-opacity="0.9" stroke="#F39B7F" stroke-opacity="0.9" stroke-width="1.6"/>
<circle cx="295.3" cy="669.3" r="4.35" fill="#F39B7F" fill-opacity="0.9" stroke="#F39B7F" stroke-opacity="0.9" stroke-width="1.6"/>
<circle cx="358" cy="660" r="4.35" fill="#F39B7F" fill-opacity="0.9" stroke="#F39B7F" stroke-opacity="0.9" stroke-width="1.6"/>
<circle cx="381.7" cy="644.8" r="4.35" fill="#F39B7F" fill-opacity="0.9" stroke="#F39B7F" stroke-opacity="0.9" stroke-width="1.6"/>
<circle cx="405.2" cy="626.5" r="4.35" fill="#F39B7F" fill-opacity="0.9" stroke="#F39B7F" stroke-opacity="0.9" stroke-width="1.6"/>
<circle cx="491.4" cy="550" r="4.35" fill="#F39B7F" fill-opacity="0.9" stroke="#F39B7F" stroke-opacity="0.9" stroke-width="1.6"/>
<circle cx="499.5" cy="553.5" r="4.35" fill="#F39B7F" fill-opacity="0.9" stroke="#F39B7F" stroke-opacity="0.9" stroke-width="1.6"/>
<circle cx="523" cy="541.2" r="4.35" fill="#F39B7F" fill-opacity="0.9" stroke="#F39B7F" stroke-opacity="0.9" stroke-width="1.6"/>
<polygon points="440.5,588.7 446.39,598.9 434.61,598.9" fill="#F39B7F" fill-opacity="0.9" stroke="#F39B7F" stroke-opacity="0.9" stroke-width="1.6" stroke-linejoin="round"/>
<polygon points="523,521.6 528.89,531.8 517.11,531.8" fill="#F39B7F" fill-opacity="0.9" stroke="#F39B7F" stroke-opacity="0.9" stroke-width="1.6" stroke-linejoin="round"/>
<polygon points="526.8,521.6 532.69,531.8 520.91,531.8" fill="#F39B7F" fill-opacity="0.9" stroke="#F39B7F" stroke-opacity="0.9" stroke-width="1.6" stroke-linejoin="round"/>
<line x1="193.6" y1="836.65" x2="193.6" y2="501.55" stroke="#000" stroke-width="2.67" stroke-dasharray="2.67 8.01" stroke-opacity="0.57"/>
<line x1="134.75" y1="791.29" x2="566.05" y2="791.29" stroke="#000" stroke-width="2.67" stroke-dasharray="2.67 8.01" stroke-opacity="0.57"/>
<line x1="134.75" y1="836.67" x2="566.05" y2="501.53" stroke="#000" stroke-width="2.67" stroke-dasharray="2.67 8.01" stroke-opacity="0.57" stroke-dashoffset="1.2"/>
</g>
<rect x="135.4" y="502.2" width="430" height="333.8" fill="none" stroke="#333333" stroke-width="1.33"/>
<line x1="128.1" y1="821.4" x2="135.4" y2="821.4" stroke="#333333" stroke-width="2.65" />
<text transform="translate(122.2 830.1) scale(1 1.055)" font-size="22.3" fill="#4D4D4D" text-anchor="end" >0</text>
<line x1="128.1" y1="760.48" x2="135.4" y2="760.48" stroke="#333333" stroke-width="2.65" />
<text transform="translate(122.2 769.18) scale(1 1.055)" font-size="22.3" fill="#4D4D4D" text-anchor="end" > 0</text>
<path transform="matrix(0.010889 0 0 -0.010889 97.4 769.18)" d="M763,0 L583,0 L583,1147 Q518,1085 412.5,1023 Q307,961 223,930 L223,1104 Q374,1175 487,1276 Q600,1377 647,1472 L763,1472 Z" fill="#4D4D4D"/>
<line x1="128.1" y1="699.56" x2="135.4" y2="699.56" stroke="#333333" stroke-width="2.65" />
<text transform="translate(122.2 708.26) scale(1 1.055)" font-size="22.3" fill="#4D4D4D" text-anchor="end" >20</text>
<line x1="128.1" y1="638.64" x2="135.4" y2="638.64" stroke="#333333" stroke-width="2.65" />
<text transform="translate(122.2 647.34) scale(1 1.055)" font-size="22.3" fill="#4D4D4D" text-anchor="end" >30</text>
<line x1="128.1" y1="577.72" x2="135.4" y2="577.72" stroke="#333333" stroke-width="2.65" />
<text transform="translate(122.2 586.42) scale(1 1.055)" font-size="22.3" fill="#4D4D4D" text-anchor="end" >40</text>
<line x1="128.1" y1="516.8" x2="135.4" y2="516.8" stroke="#333333" stroke-width="2.65" />
<text transform="translate(122.2 525.5) scale(1 1.055)" font-size="22.3" fill="#4D4D4D" text-anchor="end" >50</text>
<line x1="154.4" y1="836" x2="154.4" y2="843.3" stroke="#333333" stroke-width="2.65" />
<text transform="translate(154.4 865.5) scale(1 1.055)" font-size="22.3" fill="#4D4D4D" text-anchor="middle" >0</text>
<line x1="232.8" y1="836" x2="232.8" y2="843.3" stroke="#333333" stroke-width="2.65" />
<text transform="translate(232.8 865.5) scale(1 1.055)" font-size="22.3" fill="#4D4D4D" text-anchor="middle" > 0</text>
<path transform="matrix(0.010889 0 0 -0.010889 220.4 865.5)" d="M763,0 L583,0 L583,1147 Q518,1085 412.5,1023 Q307,961 223,930 L223,1104 Q374,1175 487,1276 Q600,1377 647,1472 L763,1472 Z" fill="#4D4D4D"/>
<line x1="311.2" y1="836" x2="311.2" y2="843.3" stroke="#333333" stroke-width="2.65" />
<text transform="translate(311.2 865.5) scale(1 1.055)" font-size="22.3" fill="#4D4D4D" text-anchor="middle" >20</text>
<line x1="389.6" y1="836" x2="389.6" y2="843.3" stroke="#333333" stroke-width="2.65" />
<text transform="translate(389.6 865.5) scale(1 1.055)" font-size="22.3" fill="#4D4D4D" text-anchor="middle" >30</text>
<line x1="468" y1="836" x2="468" y2="843.3" stroke="#333333" stroke-width="2.65" />
<text transform="translate(468 865.5) scale(1 1.055)" font-size="22.3" fill="#4D4D4D" text-anchor="middle" >40</text>
<line x1="546.4" y1="836" x2="546.4" y2="843.3" stroke="#333333" stroke-width="2.65" />
<text transform="translate(546.4 865.5) scale(1 1.055)" font-size="22.3" fill="#4D4D4D" text-anchor="middle" >50</text>
<text transform="translate(350.4 895.6) scale(1 1.04)" font-size="27.45" fill="#000" text-anchor="middle" >Relative abundance of minor lineage</text>
<text transform="translate(350.4 925.4) scale(1 1.04)" font-size="27.45" fill="#000" text-anchor="middle" >in First Replicate (%)</text>
<text transform="translate(55 669) rotate(-90) scale(1 1.04)" font-size="27.45" fill="#000" text-anchor="middle" >Relative abundance of minor lineage</text>
<text transform="translate(84.6 669) rotate(-90) scale(1 1.04)" font-size="27.45" fill="#000" text-anchor="middle" >in Second Replicate (%)</text>
<line x1="193.2" y1="484.8" x2="224.8" y2="484.8" stroke="#000" stroke-width="2.4"/>
<line x1="440.4" y1="484.8" x2="526.6" y2="484.8" stroke="#000" stroke-width="2.4"/>
<rect x="224.8" y="469.6" width="215.6" height="30.4" fill="#fff" stroke="#000" stroke-width="2.4"/>
<line x1="295.4" y1="469.6" x2="295.4" y2="500.0" stroke="#000" stroke-width="4.8"/>
<line x1="588.9" y1="529.0" x2="588.9" y2="620.5" stroke="#000" stroke-width="2.4"/>
<line x1="588.9" y1="760.5" x2="588.9" y2="787.6" stroke="#000" stroke-width="2.4"/>
<rect x="569.5" y="620.5" width="39.1" height="140" fill="#fff" stroke="#000" stroke-width="2.4"/>
<line x1="569.5" y1="699.5" x2="608.6" y2="699.5" stroke="#000" stroke-width="4.8"/>
<clipPath id="clipC"><rect x="135.0" y="963.2" width="461.6" height="385.79999999999995"/></clipPath>
<line x1="197.68" y1="963.2" x2="197.68" y2="1349" stroke="#EBEBEB" stroke-width="1.33" />
<line x1="281.84" y1="963.2" x2="281.84" y2="1349" stroke="#EBEBEB" stroke-width="1.33" />
<line x1="366" y1="963.2" x2="366" y2="1349" stroke="#EBEBEB" stroke-width="1.33" />
<line x1="450.16" y1="963.2" x2="450.16" y2="1349" stroke="#EBEBEB" stroke-width="1.33" />
<line x1="534.32" y1="963.2" x2="534.32" y2="1349" stroke="#EBEBEB" stroke-width="1.33" />
<line x1="135" y1="1292.72" x2="596.6" y2="1292.72" stroke="#EBEBEB" stroke-width="1.33" />
<line x1="135" y1="1214.56" x2="596.6" y2="1214.56" stroke="#EBEBEB" stroke-width="1.33" />
<line x1="135" y1="1136.4" x2="596.6" y2="1136.4" stroke="#EBEBEB" stroke-width="1.33" />
<line x1="135" y1="1058.24" x2="596.6" y2="1058.24" stroke="#EBEBEB" stroke-width="1.33" />
<line x1="135" y1="980.08" x2="596.6" y2="980.08" stroke="#EBEBEB" stroke-width="1.33" />
<line x1="155.6" y1="963.2" x2="155.6" y2="1349" stroke="#EBEBEB" stroke-width="2.65" />
<line x1="239.76" y1="963.2" x2="239.76" y2="1349" stroke="#EBEBEB" stroke-width="2.65" />
<line x1="323.92" y1="963.2" x2="323.92" y2="1349" stroke="#EBEBEB" stroke-width="2.65" />
<line x1="408.08" y1="963.2" x2="408.08" y2="1349" stroke="#EBEBEB" stroke-width="2.65" />
<line x1="492.24" y1="963.2" x2="492.24" y2="1349" stroke="#EBEBEB" stroke-width="2.65" />
<line x1="576.4" y1="963.2" x2="576.4" y2="1349" stroke="#EBEBEB" stroke-width="2.65" />
<line x1="135" y1="1331.8" x2="596.6" y2="1331.8" stroke="#EBEBEB" stroke-width="2.65" />
<line x1="135" y1="1253.64" x2="596.6" y2="1253.64" stroke="#EBEBEB" stroke-width="2.65" />
<line x1="135" y1="1175.48" x2="596.6" y2="1175.48" stroke="#EBEBEB" stroke-width="2.65" />
<line x1="135" y1="1097.32" x2="596.6" y2="1097.32" stroke="#EBEBEB" stroke-width="2.65" />
<line x1="135" y1="1019.16" x2="596.6" y2="1019.16" stroke="#EBEBEB" stroke-width="2.65" />
<g clip-path="url(#clipC)">
<line x1="197.68" y1="1349.65" x2="197.68" y2="962.55" stroke="#000" stroke-width="2.67" stroke-dasharray="2.67 8.01" stroke-opacity="0.57"/>
<path d="M193.47,1253.64H201.89V1331.8H193.47ZM210.3,1097.32H218.72V1331.8H210.3ZM218.72,1213.96H227.14V1331.8H218.72ZM227.14,1135.8H235.55V1331.8H227.14ZM235.55,1213.96H243.97V1331.8H235.55ZM252.38,1292.12H260.8V1331.8H252.38ZM260.8,1253.04H269.22V1331.8H260.8ZM269.22,1292.72H277.63V1331.8H269.22ZM277.63,1253.04H286.05V1331.8H277.63ZM302.88,1292.12H311.3V1331.8H302.88ZM319.71,1292.12H328.13V1331.8H319.71ZM328.13,1253.04H336.54V1331.8H328.13ZM353.38,1292.72H361.79V1331.8H353.38ZM361.79,1253.04H370.21V1331.8H361.79ZM370.21,1292.12H378.62V1331.8H370.21ZM403.87,1292.12H412.29V1331.8H403.87ZM420.7,1292.12H429.12V1331.8H420.7ZM462.78,1292.12H471.2V1331.8H462.78ZM471.2,1292.12H479.62V1331.8H471.2Z" fill="#CCCCCC"/>
<path d="M201.89,1214.56H210.3V1331.8H201.89ZM218.72,1096.72H227.14V1214.56H218.72ZM227.14,980.08H235.55V1136.4H227.14ZM235.55,1019.16H243.97V1214.56H235.55ZM243.97,1214.56H252.38V1331.8H243.97ZM252.38,1214.56H260.8V1292.72H252.38ZM260.8,1214.56H269.22V1253.64H260.8ZM277.63,1175.48H286.05V1253.64H277.63ZM286.05,1292.72H294.46V1331.8H286.05ZM328.13,1214.56H336.54V1253.64H328.13ZM336.54,1253.64H344.96V1331.8H336.54ZM361.79,1213.96H370.21V1253.64H361.79ZM370.21,1214.56H378.62V1292.72H370.21ZM387.04,1292.72H395.46V1331.8H387.04ZM395.46,1253.04H403.87V1331.8H395.46ZM403.87,1253.04H412.29V1292.72H403.87ZM420.7,1253.64H429.12V1292.72H420.7ZM429.12,1292.72H437.54V1331.8H429.12ZM437.54,1292.72H445.95V1331.8H437.54ZM454.37,1292.72H462.78V1331.8H454.37ZM462.78,1253.04H471.2V1292.72H462.78ZM479.62,1253.04H488.03V1331.8H479.62ZM513.28,1292.12H521.7V1331.8H513.28ZM521.7,1213.96H530.11V1331.8H521.7Z" fill="#7F7F7F"/>
<path d="M218.72,1058.24H227.14V1097.32H218.72ZM302.88,1253.64H311.3V1292.72H302.88ZM319.71,1253.64H328.13V1292.72H319.71ZM361.79,1175.48H370.21V1214.56H361.79ZM395.46,1214.56H403.87V1253.64H395.46ZM403.87,1214.56H412.29V1253.64H403.87ZM412.29,1292.72H420.7V1331.8H412.29ZM462.78,1214.56H471.2V1253.64H462.78ZM471.2,1253.64H479.62V1292.72H471.2ZM479.62,1214.56H488.03V1253.64H479.62ZM488.03,1253.64H496.45V1331.8H488.03ZM496.45,1292.72H504.86V1331.8H496.45ZM504.86,1292.72H513.28V1331.8H504.86ZM513.28,1253.64H521.7V1292.72H513.28ZM521.7,1175.48H530.11V1214.56H521.7ZM538.53,1214.56H546.94V1331.8H538.53ZM546.94,1214.56H555.36V1331.8H546.94ZM555.36,1253.64H563.78V1331.8H555.36Z" fill="#1A1A1A"/>
</g>
<rect x="135" y="963.2" width="461.6" height="385.8" fill="none" stroke="#333333" stroke-width="1.33"/>
<line x1="127.7" y1="1331.8" x2="135" y2="1331.8" stroke="#333333" stroke-width="2.65" />
<text transform="translate(122.2 1340.5) scale(1 1.055)" font-size="22.3" fill="#4D4D4D" text-anchor="end" >0</text>
<line x1="127.7" y1="1253.64" x2="135" y2="1253.64" stroke="#333333" stroke-width="2.65" />
<text transform="translate(122.2 1262.34) scale(1 1.055)" font-size="22.3" fill="#4D4D4D" text-anchor="end" >2</text>
<line x1="127.7" y1="1175.48" x2="135" y2="1175.48" stroke="#333333" stroke-width="2.65" />
<text transform="translate(122.2 1184.18) scale(1 1.055)" font-size="22.3" fill="#4D4D4D" text-anchor="end" >4</text>
<line x1="127.7" y1="1097.32" x2="135" y2="1097.32" stroke="#333333" stroke-width="2.65" />
<text transform="translate(122.2 1106.02) scale(1 1.055)" font-size="22.3" fill="#4D4D4D" text-anchor="end" >6</text>
<line x1="127.7" y1="1019.16" x2="135" y2="1019.16" stroke="#333333" stroke-width="2.65" />
<text transform="translate(122.2 1027.86) scale(1 1.055)" font-size="22.3" fill="#4D4D4D" text-anchor="end" >8</text>
<line x1="155.6" y1="1349" x2="155.6" y2="1356.3" stroke="#333333" stroke-width="2.65" />
<text transform="translate(155.6 1378.2) scale(1 1.055)" font-size="22.3" fill="#4D4D4D" text-anchor="middle" >0</text>
<line x1="239.76" y1="1349" x2="239.76" y2="1356.3" stroke="#333333" stroke-width="2.65" />
<text transform="translate(239.76 1378.2) scale(1 1.055)" font-size="22.3" fill="#4D4D4D" text-anchor="middle" > 0</text>
<path transform="matrix(0.010889 0 0 -0.010889 227.36 1378.2)" d="M763,0 L583,0 L583,1147 Q518,1085 412.5,1023 Q307,961 223,930 L223,1104 Q374,1175 487,1276 Q600,1377 647,1472 L763,1472 Z" fill="#4D4D4D"/>
<line x1="323.92" y1="1349" x2="323.92" y2="1356.3" stroke="#333333" stroke-width="2.65" />
<text transform="translate(323.92 1378.2) scale(1 1.055)" font-size="22.3" fill="#4D4D4D" text-anchor="middle" >20</text>
<line x1="408.08" y1="1349" x2="408.08" y2="1356.3" stroke="#333333" stroke-width="2.65" />
<text transform="translate(408.08 1378.2) scale(1 1.055)" font-size="22.3" fill="#4D4D4D" text-anchor="middle" >30</text>
<line x1="492.24" y1="1349" x2="492.24" y2="1356.3" stroke="#333333" stroke-width="2.65" />
<text transform="translate(492.24 1378.2) scale(1 1.055)" font-size="22.3" fill="#4D4D4D" text-anchor="middle" >40</text>
<line x1="576.4" y1="1349" x2="576.4" y2="1356.3" stroke="#333333" stroke-width="2.65" />
<text transform="translate(576.4 1378.2) scale(1 1.055)" font-size="22.3" fill="#4D4D4D" text-anchor="middle" >50</text>
<text transform="translate(365.8 1409.4) scale(1 1.04)" font-size="27.45" fill="#000" text-anchor="middle" >Relative abundance of minor lineage</text>
<text transform="translate(97.6 1156) rotate(-90) scale(1 1.04)" font-size="27.45" fill="#000" text-anchor="middle" >Number of sequences</text>
<text transform="translate(638.6 131.6) scale(1 1.04)" font-size="29.7" fill="#000" text-anchor="start" >seqmet results</text>
<circle cx="660" cy="169.8" r="5" fill="#00A087" fill-opacity="1.0" stroke="#00A087" stroke-opacity="1.0" stroke-width="1.76"/>
<text transform="translate(695.5 177.6) scale(1 1.04)" font-size="22.6" fill="#000" text-anchor="start" >Delta/Omicron(BA. )</text>
<path transform="matrix(0.011035 0 0 -0.011035 883.88 177.6)" d="M763,0 L583,0 L583,1147 Q518,1085 412.5,1023 Q307,961 223,930 L223,1104 Q374,1175 487,1276 Q600,1377 647,1472 L763,1472 Z" fill="#000"/>
<circle cx="660" cy="213.4" r="5" fill="#3C5488" fill-opacity="1.0" stroke="#3C5488" stroke-opacity="1.0" stroke-width="1.76"/>
<text transform="translate(695.5 221.2) scale(1 1.04)" font-size="22.6" fill="#000" text-anchor="start" >Delta/Omicron(BA.2)</text>
<circle cx="660" cy="256.8" r="5" fill="#F39B7F" fill-opacity="1.0" stroke="#F39B7F" stroke-opacity="1.0" stroke-width="1.76"/>
<text transform="translate(695.5 264.6) scale(1 1.04)" font-size="22.6" fill="#000" text-anchor="start" >Omicron(BA. )/Omicron(BA.2)</text>
<path transform="matrix(0.011035 0 0 -0.011035 824.84 264.6)" d="M763,0 L583,0 L583,1147 Q518,1085 412.5,1023 Q307,961 223,930 L223,1104 Q374,1175 487,1276 Q600,1377 647,1472 L763,1472 Z" fill="#000"/>
<text transform="translate(638.6 503.6) scale(1 1.04)" font-size="29.7" fill="#000" text-anchor="start" >seqmet results</text>
<circle cx="660" cy="542.4" r="5" fill="#00A087" fill-opacity="1.0" stroke="#00A087" stroke-opacity="1.0" stroke-width="1.76"/>
<text transform="translate(695.5 550.2) scale(1 1.04)" font-size="22.6" fill="#000" text-anchor="start" >Delta/Omicron(BA. )</text>
<path transform="matrix(0.011035 0 0 -0.011035 883.88 550.2)" d="M763,0 L583,0 L583,1147 Q518,1085 412.5,1023 Q307,961 223,930 L223,1104 Q374,1175 487,1276 Q600,1377 647,1472 L763,1472 Z" fill="#000"/>
<circle cx="660" cy="585.8" r="5" fill="#3C5488" fill-opacity="1.0" stroke="#3C5488" stroke-opacity="1.0" stroke-width="1.76"/>
<text transform="translate(695.5 593.6) scale(1 1.04)" font-size="22.6" fill="#000" text-anchor="start" >Delta/Omicron(BA.2)</text>
<circle cx="660" cy="629.1" r="5" fill="#F39B7F" fill-opacity="1.0" stroke="#F39B7F" stroke-opacity="1.0" stroke-width="1.76"/>
<text transform="translate(695.5 636.9) scale(1 1.04)" font-size="22.6" fill="#000" text-anchor="start" >Omicron(BA. )/Omicron(BA.2)</text>
<path transform="matrix(0.011035 0 0 -0.011035 824.84 636.9)" d="M763,0 L583,0 L583,1147 Q518,1085 412.5,1023 Q307,961 223,930 L223,1104 Q374,1175 487,1276 Q600,1377 647,1472 L763,1472 Z" fill="#000"/>
<text transform="translate(638.6 692.3) scale(1 1.04)" font-size="27.45" fill="#000" text-anchor="start" >Minor lineage identified</text>
<text transform="translate(638.6 721.9) scale(1 1.04)" font-size="27.45" fill="#000" text-anchor="start" >in duplicates as</text>
<polygon points="660.3,755.6 666.62,766.55 653.98,766.55" fill="#1A1A1A" fill-opacity="1.0" stroke="#1A1A1A" stroke-opacity="1.0" stroke-width="1.2" stroke-linejoin="round"/>
<circle cx="660.3" cy="806.3" r="4.6" fill="#1A1A1A" fill-opacity="1.0" stroke="#1A1A1A" stroke-opacity="1.0" stroke-width="1.2"/>
<text transform="translate(695.5 770.7) scale(1 1.04)" font-size="22.6" fill="#000" text-anchor="start" >discordant</text>
<text transform="translate(695.5 813.6) scale(1 1.04)" font-size="22.6" fill="#000" text-anchor="start" >secondary lineage</text>
<text transform="translate(638.6 1064) scale(1 1.04)" font-size="27.45" fill="#000" text-anchor="start" >Number of mutations</text>
<text transform="translate(638.6 1093.6) scale(1 1.04)" font-size="27.45" fill="#000" text-anchor="start" >specific to minor lineage</text>
<text transform="translate(638.6 1122.5) scale(1 1.04)" font-size="27.45" fill="#000" text-anchor="start" >in consensus sequence</text>
<rect x="640.2" y="1142.7" width="39.8" height="39.4" fill="#1A1A1A"/>
<text transform="translate(695.8 1170.4) scale(1 1.04)" font-size="22.6" fill="#000" text-anchor="start" >&gt;2</text>
<rect x="640.2" y="1186.1" width="39.8" height="39.4" fill="#7F7F7F"/>
<text transform="translate(695.8 1213.8) scale(1 1.04)" font-size="22.6" fill="#000" text-anchor="start" > −2</text>
<path transform="matrix(0.011035 0 0 -0.011035 695.8 1213.8)" d="M763,0 L583,0 L583,1147 Q518,1085 412.5,1023 Q307,961 223,930 L223,1104 Q374,1175 487,1276 Q600,1377 647,1472 L763,1472 Z" fill="#000"/>
<rect x="640.2" y="1229.3" width="39.8" height="39.4" fill="#CCCCCC"/>
<text transform="translate(695.8 1257) scale(1 1.04)" font-size="22.6" fill="#000" text-anchor="start" >0</text>
<text transform="translate(0 24.6) scale(1 1.04)" font-size="34.6" fill="#000" text-anchor="start" font-weight="bold">A</text>
<text transform="translate(0 505.8) scale(1 1.04)" font-size="34.6" fill="#000" text-anchor="start" font-weight="bold">B</text>
<text transform="translate(0 985.6) scale(1 1.04)" font-size="34.6" fill="#000" text-anchor="start" font-weight="bold">C</text>
</svg></body></html>
